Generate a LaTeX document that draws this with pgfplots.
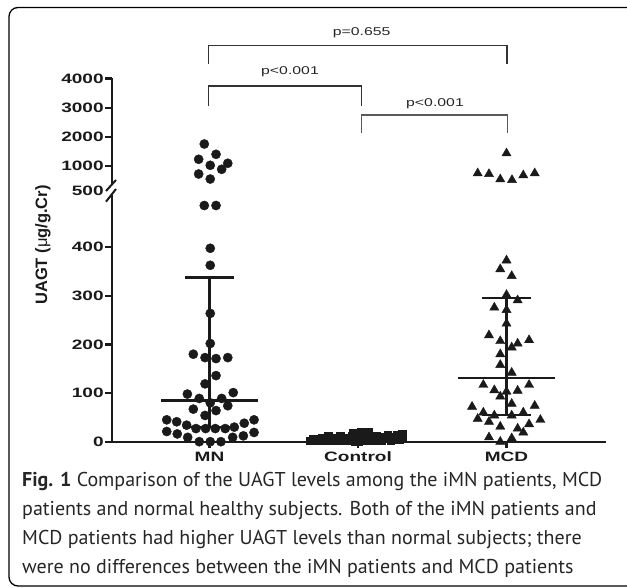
\documentclass[border=0pt]{standalone}
\usepackage{fontspec}
\usepackage{pgfplots}
\pgfplotsset{compat=1.18}
\newfontfamily\axfont[FakeStretch=1.4]{Liberation Sans}
\newfontfamily\lblfont{Liberation Sans}
\newfontfamily\capfont{PT Sans}
\definecolor{ink}{HTML}{1A1A1A}

\pgfplotsset{
  brk/.style={
    scale only axis, width=494.3pt,
    xmin=0.3414, xmax=3.670,
    clip=false,
    axis line style={line width=2.2pt,ink},
    tick style={line width=2.2pt,ink},
    tick align=outside,
    major tick length=6.5pt,
    scaled y ticks=false,
    /pgf/number format/1000 sep={},
    /pgf/number format/assume math mode=true,
    tick label style={font=\axfont\bfseries\fontsize{13.6}{14}\selectfont,text=ink},
    yticklabel style={xshift=2pt},
  },
  pts/.style={only marks, mark=*, mark size=4.6pt, ink, mark options={draw=ink,fill=ink}},
  tri/.style={only marks, mark=triangle*, mark size=5.3pt, ink, mark options={draw=ink,fill=ink}},
  sqr/.style={only marks, mark=square*, mark size=3.9pt, ink, mark options={draw=ink,fill=ink}},
  bar/.style={line width=2.3pt, ink, no marks},
}

\begin{document}
\begin{tikzpicture}
\path[use as bounding box] (0,0) rectangle (627pt,588pt);
\clip (0,0) rectangle (627pt,588pt);
\draw[line width=1.3pt, rounded corners=9pt] (9pt,2pt) rectangle (690pt,580.5pt);

% lower segment 0..500
\begin{axis}[brk,
  at={(111.7pt,146.3pt)}, anchor=south west,
  height=246.4pt, ymin=0, ymax=507,
  axis x line*=bottom, axis y line*=left,
  ytick={0,100,200,300,400},
  extra y ticks={507}, extra y tick labels={500},
  extra y tick style={tick style={draw=none}, yticklabel style={yshift=4pt}},
  xtick={1,2,3}, xticklabels={MN,Control,MCD},
]
% MN
\addplot[pts] coordinates {
 (1.005,398) (1.005,363) (1.005,264) (1.005,202) (0.891,180) (0.970,173)
 (1.044,171) (1.123,173) (1.044,136) (0.970,119) (0.851,98) (1.160,101)
 (0.931,89) (1.082,89) (1.005,80) (0.891,67) (1.123,74) (1.044,64)
 (0.970,54) (0.712,45) (0.779,41) (1.300,45) (0.846,34) (1.234,38)
 (0.909,27) (0.974,27) (1.039,27) (1.106,27) (1.167,30) (0.712,21)
 (0.783,16) (0.853,9) (1.228,12) (1.300,19) (1.156,9) (0.931,0)
 (1.005,0) (1.077,0) (0.965,486) (1.044,486)};
% Control
\addplot[sqr] coordinates {
 (1.68,2) (1.74,2) (1.80,3) (1.86,3) (1.92,3) (1.98,2) (2.04,3) (2.10,3) (2.16,3) (2.22,3) (2.28,4)
 (1.70,6) (1.76,7) (1.82,7) (1.88,8) (1.94,8) (2.00,8) (2.06,8) (2.12,8) (2.18,9) (2.24,10) (2.30,12)
 (1.80,11) (1.88,12) (1.96,12) (2.04,12) (2.12,12) (2.20,13) (2.26,14)
 (1.97,17) (2.02,20) (2.07,20) (2.30,15) (1.98,0) (2.00,1)};
% MCD
\addplot[tri] coordinates {
 (3.000,373) (2.958,355) (3.035,341) (3.000,302) (3.075,291) (2.918,276)
 (3.000,271) (3.000,243) (2.882,219) (2.958,207) (3.075,202) (3.152,209)
 (3.035,194) (2.958,180) (2.958,158) (3.035,142) (2.844,117) (2.918,106)
 (3.000,103) (3.075,105) (3.152,117) (2.958,93) (3.035,78) (2.768,72)
 (3.190,74) (2.844,60) (2.918,54) (3.035,54) (3.113,60) (2.806,47)
 (2.882,41) (3.228,45) (2.958,31) (3.075,27) (3.152,36) (3.113,19)
 (2.882,9) (3.035,7) (2.958,0)};
% median and interquartile range
\addplot[bar] coordinates {(0.672,85) (1.328,85)};
\addplot[bar] coordinates {(1,30) (1,338)};
\addplot[bar] coordinates {(0.838,338) (1.162,338)};
\addplot[bar] coordinates {(0.838,30) (1.162,30)};
\addplot[bar] coordinates {(1.672,7) (2.328,7)};
\addplot[bar] coordinates {(2,2) (2,13)};
\addplot[bar] coordinates {(1.838,13) (2.162,13)};
\addplot[bar] coordinates {(2.672,131) (3.328,131)};
\addplot[bar] coordinates {(3,55) (3,295)};
\addplot[bar] coordinates {(2.838,295) (3.162,295)};
\addplot[bar] coordinates {(2.838,55) (3.162,55)};
\end{axis}

% upper segment 500..4000
\begin{axis}[brk,
  at={(111.7pt,402.5pt)}, anchor=south west,
  height=107pt, ymin=332, ymax=4000,
  axis y line*=left, axis x line=none,
  xtick=\empty,
  ytick={1000,2000,3000,4000},
]
\addplot[pts] coordinates {
 (0.965,1754) (1.044,1401) (0.927,1230) (1.005,1024) (1.123,1093)
 (1.082,887) (0.927,726) (1.005,554)};
\addplot[tri] coordinates {
 (3.000,1435) (2.806,750) (2.882,726) (2.958,544) (3.037,520)
 (3.113,681) (3.190,750)};
\end{axis}

% axis break marks
\draw[line width=2pt, ink] (106pt,397pt) -- (116pt,408pt);
\draw[line width=2pt, ink] (106pt,386.3pt) -- (116pt,399pt);

% y label
\node[rotate=90, text=ink, inner sep=0pt, font=\lblfont\bfseries\fontsize{16.5}{18}\selectfont]
  at (43pt,343pt) {UAGT ({\mdseries μ}g/g.Cr)};

% significance brackets
\draw[line width=1.2pt, black!80] (208.5pt,523.7pt) -- (208.5pt,542.3pt) -- (507pt,542.3pt) -- (507pt,523.7pt);
\draw[line width=1.2pt, black!80] (208.5pt,482.3pt) -- (208.5pt,502pt) -- (361.7pt,502pt) -- (361.7pt,482.3pt);
\draw[line width=1.4pt, black!65] (361.3pt,454.7pt) -- (361.3pt,473pt) -- (507.3pt,473pt) -- (507.3pt,454.7pt);
\node[text=black!85, font=\axfont\fontsize{11.3}{13}\selectfont] at (361.7pt,555.7pt) {p=0.655};
\node[text=black!85, font=\axfont\fontsize{11.3}{13}\selectfont] at (290pt,516.3pt) {p<0.001};
\node[text=black!85, font=\axfont\fontsize{11.3}{13}\selectfont] at (435pt,484.7pt) {p<0.001};

% caption
\begin{scope}[every node/.style={anchor=base west, inner sep=0pt, text=black!85,
  font=\capfont\fontsize{20}{24}\selectfont}]
\node at (22pt,101pt) {\textbf{Fig. 1} Comparison of the UAGT levels among the iMN patients, MCD};
\node at (22pt,72pt) {patients and normal healthy subjects. Both of the iMN patients and};
\node at (22pt,43pt) {MCD patients had higher UAGT levels than normal subjects; there};
\node at (22pt,14pt) {were no differences between the iMN patients and MCD patients};
\end{scope}
\end{tikzpicture}
\end{document}
